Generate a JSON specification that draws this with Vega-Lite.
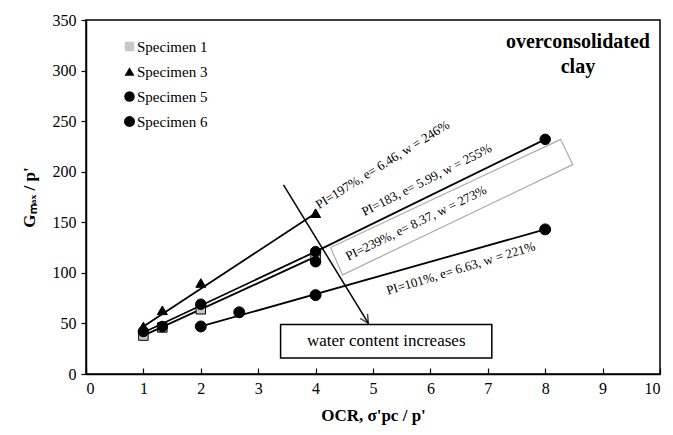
{
  "$schema": "https://vega.github.io/schema/vega-lite/v6.json",
  "width": 574,
  "height": 354,
  "autosize": "none",
  "padding": {"left": 86, "top": 20, "right": 13, "bottom": 61},
  "background": "white",
  "config": {
    "font": "Liberation Serif",
    "view": {"stroke": "black", "strokeWidth": 1.5},
    "axis": {"grid": false, "domainColor": "black", "tickColor": "black", "labelColor": "black", "titleColor": "black", "labelFont": "Liberation Serif", "titleFont": "Liberation Serif", "labelFontSize": 16, "titleFontSize": 17, "titleFontWeight": "bold", "domainWidth": 1.5, "tickWidth": 1.2},
    "legend": {"labelFont": "Liberation Serif", "titleFont": "Liberation Serif"},
    "text": {"font": "Liberation Serif"}
  },
  "datasets": {
    "pts": [
      {"specimen": "Specimen 1", "ocr": 1, "g": 38},
      {"specimen": "Specimen 1", "ocr": 1.33, "g": 46},
      {"specimen": "Specimen 1", "ocr": 2, "g": 64},
      {"specimen": "Specimen 1", "ocr": 4, "g": 115},
      {"specimen": "Specimen 3", "ocr": 1, "g": 47},
      {"specimen": "Specimen 3", "ocr": 1.33, "g": 63},
      {"specimen": "Specimen 3", "ocr": 2, "g": 90},
      {"specimen": "Specimen 3", "ocr": 4, "g": 159},
      {"specimen": "Specimen 5", "ocr": 1, "g": 42},
      {"specimen": "Specimen 5", "ocr": 1.33, "g": 47},
      {"specimen": "Specimen 5", "ocr": 2, "g": 69},
      {"specimen": "Specimen 5", "ocr": 4, "g": 121},
      {"specimen": "Specimen 5", "ocr": 4, "g": 111},
      {"specimen": "Specimen 5", "ocr": 8, "g": 232},
      {"specimen": "Specimen 6", "ocr": 2, "g": 47},
      {"specimen": "Specimen 6", "ocr": 2.67, "g": 61},
      {"specimen": "Specimen 6", "ocr": 4, "g": 78},
      {"specimen": "Specimen 6", "ocr": 8, "g": 143}
    ],
    "lines": [
      {"specimen": "Specimen 1", "ocr": 1, "g": 38},
      {"specimen": "Specimen 1", "ocr": 4, "g": 116},
      {"specimen": "Specimen 3", "ocr": 1, "g": 47},
      {"specimen": "Specimen 3", "ocr": 4, "g": 159},
      {"specimen": "Specimen 5", "ocr": 1, "g": 41},
      {"specimen": "Specimen 5", "ocr": 4, "g": 121},
      {"specimen": "Specimen 5", "ocr": 8, "g": 232},
      {"specimen": "Specimen 6", "ocr": 2, "g": 47},
      {"specimen": "Specimen 6", "ocr": 8, "g": 143}
    ],
    "box": [
      {"k": 0, "ocr": 4.26, "g": 125},
      {"k": 1, "ocr": 8.27, "g": 232},
      {"k": 2, "ocr": 8.48, "g": 207},
      {"k": 3, "ocr": 4.47, "g": 98},
      {"k": 4, "ocr": 4.26, "g": 125}
    ],
    "labels": [
      {"t": "PI=197%, e= 6.46, w = 246%", "ocr": 4.06, "g": 163, "a": -32},
      {"t": "PI=183, e= 5.99, w = 255%", "ocr": 4.85, "g": 156, "a": -27},
      {"t": "PI=239%, e= 8.37, w = 273%", "ocr": 4.57, "g": 112, "a": -26},
      {"t": "PI=101%, e= 6.63, w = 221%", "ocr": 5.26, "g": 78, "a": -17}
    ],
    "arrow": [
      {"k": 0, "ocr": 3.44, "g": 187},
      {"k": 1, "ocr": 4.92, "g": 50}
    ]
  },
  "layer": [
    {
      "data": {"name": "lines"},
      "mark": {"type": "line", "color": "black", "strokeWidth": 1.8},
      "encoding": {
        "x": {"field": "ocr", "type": "quantitative", "scale": {"domain": [0, 10]}, "axis": {"values": [0,1,2,3,4,5,6,7,8,9,10], "format": "d", "tickSize": -6, "labelPadding": 12, "title": "OCR, σ'pc / p'", "titlePadding": 11}},
        "y": {"field": "g", "type": "quantitative", "scale": {"domain": [0, 350]}, "axis": {"values": [0,50,100,150,200,250,300,350], "format": "d", "tickSize": 5, "labelPadding": 5, "title": "Gₘₐₓ / p'", "titlePadding": 14}},
        "detail": {"field": "specimen"}
      }
    },
    {
      "data": {"name": "box"},
      "mark": {"type": "line", "color": "#aaaaaa", "strokeWidth": 1.2},
      "encoding": {
        "x": {"field": "ocr", "type": "quantitative"},
        "y": {"field": "g", "type": "quantitative"},
        "order": {"field": "k"}
      }
    },
    {
      "data": {"name": "arrow"},
      "mark": {"type": "line", "color": "black", "strokeWidth": 1.5},
      "encoding": {
        "x": {"field": "ocr", "type": "quantitative"},
        "y": {"field": "g", "type": "quantitative"},
        "order": {"field": "k"}
      }
    },
    {
      "data": {"name": "arrow"},
      "transform": [{"filter": "datum.k == 1"}],
      "mark": {"type": "point", "shape": "M-0.5,-1L0,0L0.5,-1", "filled": false, "stroke": "black", "strokeWidth": 1.5, "size": 300, "angle": 328},
      "encoding": {
        "x": {"field": "ocr", "type": "quantitative"},
        "y": {"field": "g", "type": "quantitative"}
      }
    },
    {
      "data": {"values": [{"x1": 3.39, "x2": 7.07, "y1": 15.7, "y2": 49}]},
      "mark": {"type": "rect", "fill": "white", "stroke": "black", "strokeWidth": 1.5},
      "encoding": {
        "x": {"field": "x1", "type": "quantitative"},
        "x2": {"field": "x2"},
        "y": {"field": "y1", "type": "quantitative"},
        "y2": {"field": "y2"}
      }
    },
    {
      "data": {"values": [{"t": "water content increases", "x": 5.23, "y": 32.5}]},
      "mark": {"type": "text", "fontSize": 17, "font": "Liberation Serif", "color": "black", "align": "center", "baseline": "middle"},
      "encoding": {
        "x": {"field": "x", "type": "quantitative"},
        "y": {"field": "y", "type": "quantitative"},
        "text": {"field": "t"}
      }
    },
    {
      "data": {"values": [{"t": "overconsolidated", "x": 8.57, "y": 328}, {"t": "clay", "x": 8.57, "y": 304}]},
      "mark": {"type": "text", "fontSize": 20, "fontWeight": "bold", "font": "Liberation Serif", "color": "black", "align": "center", "baseline": "middle"},
      "encoding": {
        "x": {"field": "x", "type": "quantitative"},
        "y": {"field": "y", "type": "quantitative"},
        "text": {"field": "t"}
      }
    },
    {
      "data": {"name": "labels"},
      "mark": {"type": "text", "fontSize": 13, "font": "Liberation Serif", "color": "black", "align": "left", "baseline": "alphabetic"},
      "encoding": {
        "x": {"field": "ocr", "type": "quantitative"},
        "y": {"field": "g", "type": "quantitative"},
        "text": {"field": "t"},
        "angle": {"field": "a", "type": "quantitative", "scale": null}
      }
    },
    {
      "data": {"name": "pts"},
      "mark": {"type": "point", "filled": true, "stroke": "black", "strokeWidth": 1, "opacity": 1},
      "encoding": {
        "x": {"field": "ocr", "type": "quantitative"},
        "y": {"field": "g", "type": "quantitative"},
        "shape": {"field": "specimen", "type": "nominal", "scale": {"domain": ["Specimen 1", "Specimen 3", "Specimen 5", "Specimen 6"], "range": ["square", "triangle-up", "circle", "circle"]}, "legend": {"title": null, "orient": "none", "legendX": 36, "legendY": 19, "labelFont": "Liberation Serif", "labelFontSize": 15, "labelColor": "black", "rowPadding": 9, "labelOffset": 0, "symbolStrokeColor": "black", "symbolStrokeWidth": 1, "padding": 0}},
        "fill": {"field": "specimen", "type": "nominal", "scale": {"domain": ["Specimen 1", "Specimen 3", "Specimen 5", "Specimen 6"], "range": ["#c8c8c8", "black", "black", "black"]}, "legend": {"title": null, "orient": "none", "legendX": 36, "legendY": 19, "labelFont": "Liberation Serif", "labelFontSize": 15, "labelColor": "black", "rowPadding": 9, "labelOffset": 0, "symbolStrokeColor": "black", "symbolStrokeWidth": 1, "padding": 0}},
        "size": {"field": "specimen", "type": "nominal", "scale": {"domain": ["Specimen 1", "Specimen 3", "Specimen 5", "Specimen 6"], "range": [90, 120, 90, 140]}, "legend": {"title": null, "orient": "none", "legendX": 36, "legendY": 19, "labelFont": "Liberation Serif", "labelFontSize": 15, "labelColor": "black", "rowPadding": 9, "labelOffset": 0, "symbolStrokeColor": "black", "symbolStrokeWidth": 1, "padding": 0}}
      }
    }
  ]
}
